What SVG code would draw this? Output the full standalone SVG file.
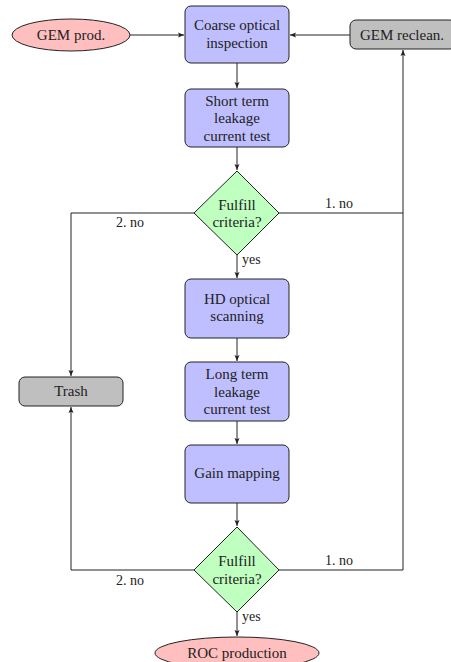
<svg xmlns="http://www.w3.org/2000/svg" width="451" height="662" viewBox="0 0 451 662" font-family="'Liberation Serif', 'DejaVu Serif', serif">
<style>
text{font-size:15px;fill:#222;text-anchor:middle}
.lbl{font-size:14px;text-anchor:start}
.proc{fill:#bfbfff;stroke:#222;stroke-width:1}
.term{fill:#ffbfbf;stroke:#222;stroke-width:1}
.dec{fill:#bfffbf;stroke:#222;stroke-width:1}
.gray{fill:#bfbfbf;stroke:#222;stroke-width:1}
.c{fill:none;stroke:#222;stroke-width:1}
</style>
<defs>
<marker id="ah" markerWidth="8" markerHeight="8" refX="6" refY="3" orient="auto" markerUnits="userSpaceOnUse">
<path d="M0,0.5 L6,3 L0,5.5 L1.2,3 Z" fill="#222"/>
</marker>
</defs>
<g id="connectors">
<line class="c" x1="130" y1="35" x2="184" y2="35" marker-end="url(#ah)"/>
<line class="c" x1="350" y1="35" x2="290" y2="35" marker-end="url(#ah)"/>
<line class="c" x1="237" y1="63" x2="237" y2="88" marker-end="url(#ah)"/>
<line class="c" x1="237" y1="147" x2="237" y2="170" marker-end="url(#ah)"/>
<polyline class="c" points="279,213 403,213"/>
<polyline class="c" points="194,213 71,213 71,376" marker-end="url(#ah)"/>
<line class="c" x1="237" y1="255" x2="237" y2="278" marker-end="url(#ah)"/>
<line class="c" x1="237" y1="338" x2="237" y2="361" marker-end="url(#ah)"/>
<line class="c" x1="237" y1="421" x2="237" y2="444" marker-end="url(#ah)"/>
<line class="c" x1="237" y1="503" x2="237" y2="526" marker-end="url(#ah)"/>
<polyline class="c" points="279,570 403,570 403,50" marker-end="url(#ah)"/>
<polyline class="c" points="194,570 71,570 71,407" marker-end="url(#ah)"/>
<line class="c" x1="237" y1="612" x2="237" y2="636" marker-end="url(#ah)"/>
<text class="lbl" x="325" y="208">1. no</text>
<text class="lbl" x="116" y="227">2. no</text>
<text class="lbl" x="242" y="264">yes</text>
<text class="lbl" x="325" y="565">1. no</text>
<text class="lbl" x="116" y="585">2. no</text>
<text class="lbl" x="242" y="621">yes</text>
</g>
<g id="gem-prod">
<ellipse class="term" cx="71" cy="35" rx="59" ry="16"/>
<text x="71" y="40">GEM prod.</text>
</g>
<g id="coarse">
<rect class="proc" x="185" y="6" width="104" height="57" rx="6"/>
<text x="237" y="30">Coarse optical</text>
<text x="237" y="48">inspection</text>
</g>
<g id="gem-reclean">
<rect class="gray" x="350" y="20" width="106" height="29" rx="6"/>
<text x="402" y="40">GEM reclean.</text>
</g>
<g id="short-term">
<rect class="proc" x="185" y="89" width="104" height="58" rx="6"/>
<text x="237" y="106">Short term</text>
<text x="237" y="123">leakage</text>
<text x="237" y="141">current test</text>
</g>
<g id="decision1">
<polygon class="dec" points="237,171 279,213 237,255 194,213"/>
<text x="237" y="210">Fulfill</text>
<text x="237" y="227">criteria?</text>
</g>
<g id="trash">
<rect class="gray" x="19" y="377" width="104" height="29" rx="6"/>
<text x="71" y="396">Trash</text>
</g>
<g id="hd">
<rect class="proc" x="185" y="279" width="104" height="59" rx="6"/>
<text x="237" y="304">HD optical</text>
<text x="237" y="321">scanning</text>
</g>
<g id="long-term">
<rect class="proc" x="185" y="362" width="104" height="59" rx="6"/>
<text x="237" y="379">Long term</text>
<text x="237" y="397">leakage</text>
<text x="237" y="414">current test</text>
</g>
<g id="gain">
<rect class="proc" x="185" y="445" width="104" height="58" rx="6"/>
<text x="237" y="478">Gain mapping</text>
</g>
<g id="decision2">
<polygon class="dec" points="237,527 279,570 237,612 194,570"/>
<text x="237" y="566">Fulfill</text>
<text x="237" y="584">criteria?</text>
</g>
<g id="roc">
<ellipse class="term" cx="237" cy="653" rx="82" ry="16"/>
<text x="237" y="658">ROC production</text>
</g>
</svg>
